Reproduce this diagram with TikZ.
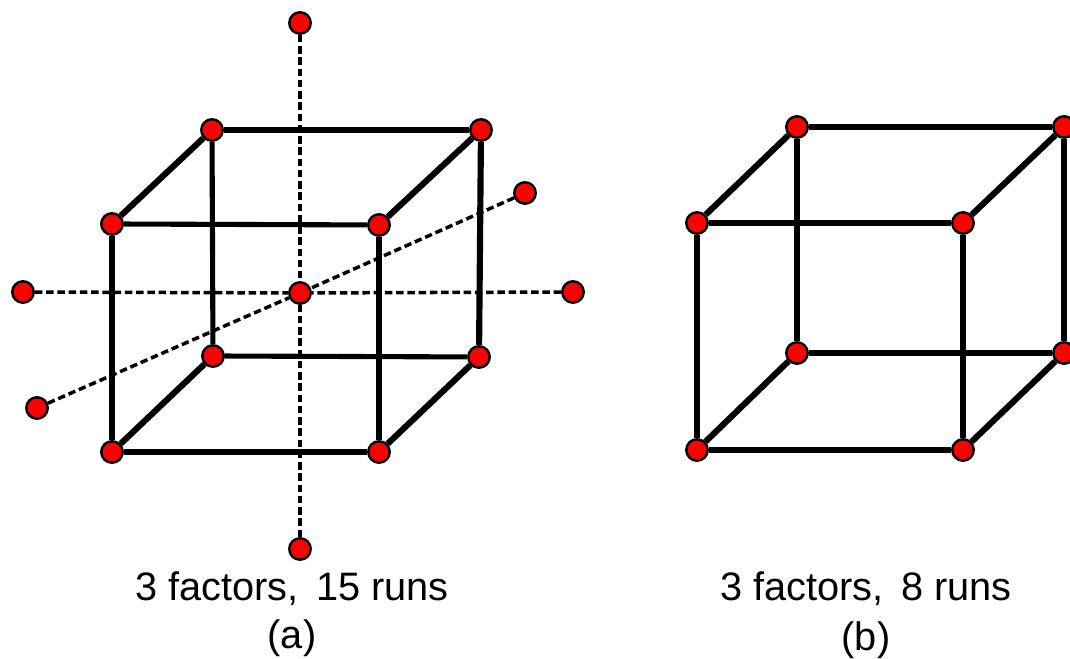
\documentclass[tikz,border=0pt]{standalone}
\usepackage{fontspec}
\setmainfont{Liberation Sans}
\tikzset{
  run/.style={circle,draw=black,fill=red,line width=0.7pt,minimum size=6.1pt,inner sep=0pt},
  edge/.style={line width=1.45pt},
  fedge/.style={line width=1.75pt},
  axis/.style={line width=1pt,dash pattern=on 2.1pt off 1.1pt},
  captext/.style={font=\fontsize{11.3}{13}\selectfont,inner sep=0pt}
}
\begin{document}
\begin{tikzpicture}[scale=1.0]
\useasboundingbox (0,0) rectangle (10.7,6.59);
% cube a
\node[run] (aftl) at (1.12,4.35) {};
\node[run] (aftr) at (3.79,4.34) {};
\node[run] (afbl) at (1.12,2.07) {};
\node[run] (afbr) at (3.79,2.07) {};
\node[run] (abtl) at (2.12,5.29) {};
\node[run] (abtr) at (4.81,5.29) {};
\node[run] (abbl) at (2.13,3.03) {};
\node[run] (abbr) at (4.79,3.02) {};
\draw[fedge] (aftl) -- (afbl);
\draw[edge] (aftl) -- (aftr);
\draw[edge] (aftr) -- (afbr);
\draw[fedge] (afbl) -- (afbr);
\draw[fedge] (abtl) -- (abtr);
\draw[fedge] (abtr) -- (abbr);
\draw[edge] (abtl) -- (abbl);
\draw[edge] (abbl) -- (abbr);
\draw[fedge] (aftl) -- (abtl);
\draw[fedge] (aftr) -- (abtr);
\draw[fedge] (afbl) -- (abbl);
\draw[fedge] (afbr) -- (abbr);
% axes of a
\node[run] (acen) at (3.00,3.66) {};
\node[run] (atop) at (3.00,6.36) {};
\node[run] (abot) at (3.00,1.10) {};
\node[run] (alef) at (0.23,3.67) {};
\node[run] (arig) at (5.73,3.67) {};
\node[run] (ane) at (5.25,4.66) {};
\node[run] (asw) at (0.37,2.51) {};
\draw[axis] (atop) -- (acen);
\draw[axis] (abot) -- (acen);
\draw[axis] (alef) -- (acen);
\draw[axis] (arig) -- (acen);
\draw[axis] (ane) -- (acen);
\draw[axis] (asw) -- (acen);
% cube b
\node[run] (bftl) at (6.97,4.36) {};
\node[run] (bftr) at (9.63,4.36) {};
\node[run] (bfbl) at (6.97,2.09) {};
\node[run] (bfbr) at (9.63,2.09) {};
\node[run] (bbtl) at (7.97,5.32) {};
\node[run] (bbtr) at (10.64,5.32) {};
\node[run] (bbbl) at (7.97,3.06) {};
\node[run] (bbbr) at (10.64,3.06) {};
\draw[edge] (bftl) -- (bfbl);
\draw[edge] (bftl) -- (bftr);
\draw[edge] (bftr) -- (bfbr);
\draw[edge] (bfbl) -- (bfbr);
\draw[edge] (bbtl) -- (bbtr);
\draw[edge] (bbtr) -- (bbbr);
\draw[edge] (bbtl) -- (bbbl);
\draw[edge] (bbbl) -- (bbbr);
\draw[fedge] (bftl) -- (bbtl);
\draw[fedge] (bftr) -- (bbtr);
\draw[fedge] (bfbl) -- (bbbl);
\draw[fedge] (bfbr) -- (bbbr);
% captions
\node[captext] (acap) at (2.92,0.70) {3 factors,\, 15 runs};
\node[captext] (alab) at (2.92,0.21) {(a)};
\node[captext] (bcap) at (8.66,0.70) {3 factors,\, 8 runs};
\node[captext] (blab) at (8.66,0.19) {(b)};
\end{tikzpicture}
\end{document}
